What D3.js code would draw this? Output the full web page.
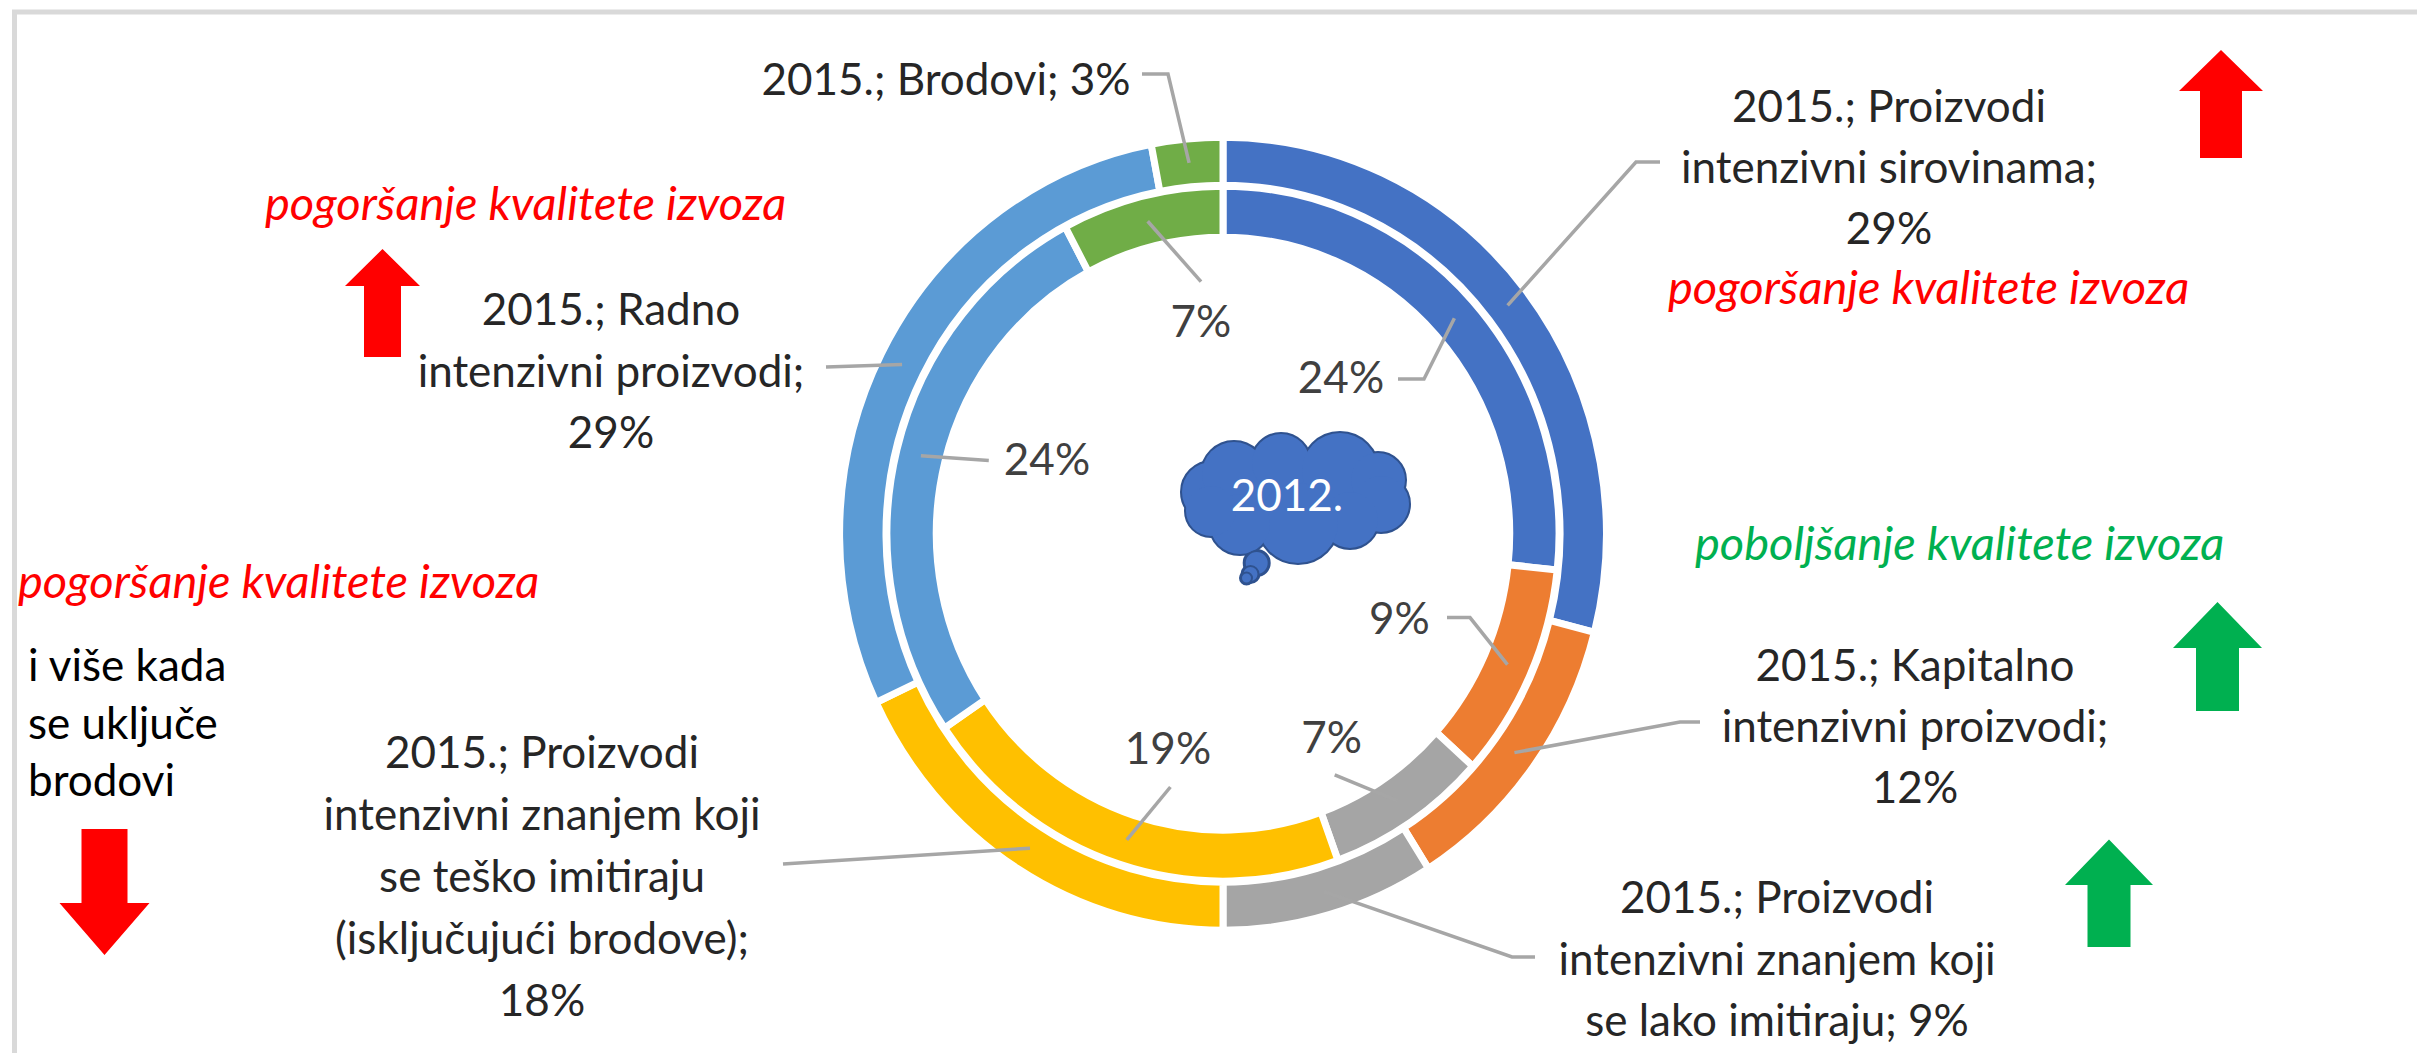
<!DOCTYPE html>
<html><head><meta charset="utf-8">
<script src="https://cdn.jsdelivr.net/npm/d3@7"></script>
<style>html,body{margin:0;padding:0;background:#fff;} svg{display:block;}</style>
</head><body>
<svg id="chart" width="2417" height="1053"></svg>
<script>
// ---------------- data ----------------
const categories = [
  "Proizvodi intenzivni sirovinama",
  "Kapitalno intenzivni proizvodi",
  "Proizvodi intenzivni znanjem koji se lako imitiraju",
  "Proizvodi intenzivni znanjem koji se teško imitiraju (isključujući brodove)",
  "Radno intenzivni proizvodi",
  "Brodovi"
];
const values2015 = [29, 12, 9, 18, 29, 3];   // outer ring
const values2012 = [24, 9, 7, 19, 24, 7];    // inner ring
const sliceColors = ["#4472C4", "#ED7D31", "#A5A5A5", "#FFC000", "#5B9BD5", "#70AD47"];
const yearOuter = "2015.";
const yearInner = "2012.";
const outerLabelLines = [
  ["{y}; Proizvodi", "intenzivni sirovinama;", "{v}%"],
  ["{y}; Kapitalno", "intenzivni proizvodi;", "{v}%"],
  ["{y}; Proizvodi", "intenzivni znanjem koji", "se lako imitiraju; {v}%"],
  ["{y}; Proizvodi", "intenzivni znanjem koji", "se teško imitiraju", "(isključujući brodove);", "{v}%"],
  ["{y}; Radno", "intenzivni proizvodi;", "{v}%"],
  ["{y}; Brodovi; {v}%"]
];
const noteRed = "pogoršanje kvalitete izvoza";
const noteGreen = "poboljšanje kvalitete izvoza";
const noteShips = ["i više kada", "se uključe", "brodovi"];

// ---------------- layout ----------------
const cx = 1223, cy = 533.7, sx = 0.967;
const outerRadii = [348.5, 396.5], innerRadii = [296.5, 347.5];
const outerLabelPos = [
  {x: 1889, y: 122, dy: 61,   path: [[1636, 162], [1660, 162]]},
  {x: 1915, y: 681, dy: 61,   path: [[1680, 722], [1700, 722]]},
  {x: 1777, y: 913, dy: 61.5, path: [[1512, 957], [1535, 957]]},
  {x: 542,  y: 768, dy: 62,   path: [[783, 864]]},
  {x: 611,  y: 325, dy: 61.5, path: [[826, 367]]},
  {x: 946,  y: 95,  dy: 0,    path: [[1168, 74], [1142, 74]]}
];
const innerLabelPos = [
  {x: 1341,   y: 393, path: [[1424, 379], [1398, 379]]},
  {x: 1399.5, y: 634, path: [[1470, 617.6], [1447, 617.6]]},
  {x: 1331.6, y: 753, path: [[1334.7, 774.8]]},
  {x: 1168,   y: 764, path: [[1170.4, 787]]},
  {x: 1047,   y: 475, path: [[988.8, 460.4]]},
  {x: 1201,   y: 337, path: [[1201, 281.6]]}
];
const FONT = "Lato, 'Open Sans', sans-serif";
const FS = 44;
const FS_NOTE = 47;

const svg = d3.select("#chart");
svg.append("rect").attr("width", 2417).attr("height", 1053).attr("fill", "#fff");
// chart frame
svg.append("rect").attr("x", 14.5).attr("y", 12).attr("width", 2600).attr("height", 1200)
  .attr("fill", "none").attr("stroke", "#D9D9D9").attr("stroke-width", 5);

const pie = d3.pie().sort(null).value(d => d);
const outerArcs = pie(values2015);
const innerArcs = pie(values2012);

const g = svg.append("g").attr("transform", `translate(${cx},${cy}) scale(${sx},1)`);
function drawRing(arcs, radii) {
  const arc = d3.arc().innerRadius(radii[0]).outerRadius(radii[1]);
  g.append("g").selectAll("path").data(arcs).join("path")
    .attr("d", arc)
    .attr("fill", (d, i) => sliceColors[i])
    .attr("stroke", "#fff").attr("stroke-width", 7)
    .attr("vector-effect", "non-scaling-stroke");
}
drawRing(outerArcs, outerRadii);
drawRing(innerArcs, innerRadii);

function anchor(d, radii) {
  const m = (radii[0] + radii[1]) / 2;
  const c = d3.arc().innerRadius(m).outerRadius(m).centroid(d);
  return [cx + c[0] * sx, cy + c[1]];
}
const line = d3.line();

// leader lines
const leaders = svg.append("g").attr("fill", "none").attr("stroke", "#A6A6A6").attr("stroke-width", 3.5);
outerArcs.forEach((d, i) => {
  leaders.append("path").attr("d", line([anchor(d, outerRadii), ...outerLabelPos[i].path]));
});
innerArcs.forEach((d, i) => {
  leaders.append("path").attr("d", line([anchor(d, innerRadii), ...innerLabelPos[i].path]));
});

// outer labels
outerLabelLines.forEach((lines, i) => {
  const p = outerLabelPos[i];
  const t = svg.append("text").attr("font-family", FONT).attr("font-size", FS)
    .attr("fill", "#262626").attr("text-anchor", "middle");
  lines.forEach((s, k) => {
    t.append("tspan").attr("x", p.x).attr("y", p.y + k * p.dy)
      .text(s.replace("{y}", yearOuter).replace("{v}", values2015[i]));
  });
});
// inner labels
innerArcs.forEach((d, i) => {
  const p = innerLabelPos[i];
  svg.append("text").attr("x", p.x).attr("y", p.y)
    .attr("font-family", FONT).attr("font-size", FS).attr("fill", "#404040")
    .attr("text-anchor", "middle").text(values2012[i] + "%");
});

// cloud with year
const cloud = svg.append("g");
const bumps = [
  [1212, 492, 30], [1234, 474, 32], [1281, 463, 29], [1340, 471, 38], [1378, 480, 27],
  [1381, 504, 28], [1350, 520, 28], [1298, 523, 40], [1240, 524, 30], [1211, 511, 25]
];
const tail = [[1256.7, 563, 12], [1250.5, 574, 8], [1246.5, 578, 5.5]];
const allC = bumps.concat(tail);
cloud.selectAll("circle.o").data(allC).join("circle").attr("class", "o")
  .attr("cx", d => d[0]).attr("cy", d => d[1]).attr("r", d => d[2])
  .attr("fill", "#4472C4").attr("stroke", "#2F528F").attr("stroke-width", 4);
cloud.append("ellipse").attr("cx", 1295).attr("cy", 497).attr("rx", 85).attr("ry", 42).attr("fill", "#4472C4");
cloud.selectAll("circle.f").data(bumps).join("circle").attr("class", "f")
  .attr("cx", d => d[0]).attr("cy", d => d[1]).attr("r", d => d[2])
  .attr("fill", "#4472C4");
tail.forEach(d => {
  cloud.append("circle").attr("cx", d[0]).attr("cy", d[1]).attr("r", d[2])
    .attr("fill", "#4472C4").attr("stroke", "#2F528F").attr("stroke-width", 2);
});
cloud.append("text").attr("x", 1287).attr("y", 511).attr("text-anchor", "middle")
  .attr("font-family", FONT).attr("font-size", FS).attr("fill", "#fff").text(yearInner);

// notes
function note(x, y, txt, color, italic, fs) {
  svg.append("text").attr("x", x).attr("y", y).attr("font-family", FONT).attr("font-size", fs)
    .attr("font-style", italic ? "italic" : "normal").attr("fill", color).text(txt);
}
note(265, 220, noteRed, "#FF0000", true, FS_NOTE);
note(1668, 304, noteRed, "#FF0000", true, FS_NOTE);
note(18, 598, noteRed, "#FF0000", true, FS_NOTE);
note(1695, 560, noteGreen, "#00B050", true, FS_NOTE);
noteShips.forEach((s, k) => note(28, 681 + k * 57.5, s, "#000", false, FS));

// arrows
function arrow(x, tip, base, end, hw, sw, color) {
  const pts = [[x, tip], [x + hw / 2, base], [x + sw / 2, base], [x + sw / 2, end],
               [x - sw / 2, end], [x - sw / 2, base], [x - hw / 2, base]];
  svg.append("polygon").attr("points", pts.map(p => p.join(",")).join(" ")).attr("fill", color);
}
arrow(2221, 50, 91, 158, 84, 42, "#FF0000");
arrow(382.5, 249, 286, 357, 75, 37, "#FF0000");
arrow(104.5, 955, 903, 829, 90, 46, "#FF0000");
arrow(2217.5, 602, 648, 711, 89, 43, "#00B050");
arrow(2109, 839.5, 885, 947, 88, 43, "#00B050");
</script>
</body></html>
